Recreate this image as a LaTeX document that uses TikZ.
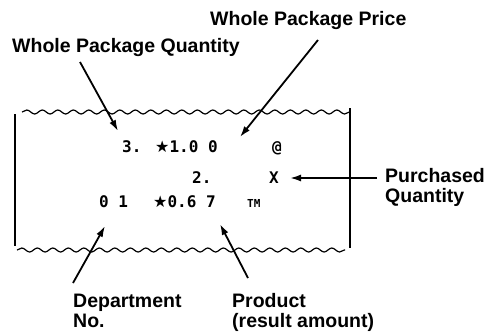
\documentclass[tikz,border=0pt]{standalone}
\usepackage{fontspec}
\usepackage{tikz}
\usetikzlibrary{arrows.meta,positioning,decorations.pathmorphing}
\setmainfont{Liberation Sans}
\newfontfamily\printfont{DejaVu Sans Mono}
\newfontfamily\starfont{DejaVu Sans}
\tikzset{
  lbl/.style={font=\bfseries\fontsize{19.5}{19.5}\selectfont, inner sep=0pt, align=left, anchor=base west},
  prt/.style={font=\printfont\bfseries\fontsize{16}{16}\selectfont, inner sep=0pt, anchor=base west},
  ptr/.style={line width=1.8pt, -{Latex[length=11pt,width=7pt]}},
  wave/.style={line width=1.2pt, decorate, decoration={snake, segment length=15.5pt, amplitude=2pt}}
}

\begin{document}
\begin{tikzpicture}[x=1pt,y=-1pt]
  \useasboundingbox (0,0) rectangle (490,335);
  % papier
  \draw[wave] (22,112) -- (350,112);
  \draw[wave] (17,250) -- (345,250);
  \draw[line width=1.2pt] (15,114) -- (15,246);
  \draw[line width=1.2pt] (350,108) -- (350,248);
  % lignes imprimees
  \node[prt] (qty)   at (122,152) {3.};
  \node[prt] (price) at (155,152) {{\starfont ★}1.0 0};
  \node[prt] (at)    at (272,152) {@};
  \node[prt] (pcs)   at (192,183) {2.};
  \node[prt] (times) at (269,183) {X};
  \node[prt] (dept)  at (99,207) {0 1};
  \node[prt] (amt)   at (153,207) {{\starfont ★}0.6 7};
  \node[prt] (tm)    at (247,207) {\fontsize{11}{11}\selectfont TM};
  % etiquettes
  \node[lbl] (pricelbl) at (210,25) {Whole Package Price};
  \node[lbl] (qtylbl) at (12,52) {Whole Package Quantity};
  \node[lbl] (purlbl) at (385,202) {Purchased\\Quantity};
  \node[lbl] (deptlbl) at (73,327) {Department\\No.};
  \node[lbl] (amtlbl) at (232,327) {Product\\(result amount)};
  % fleches
  \coordinate (qtytail) at (80,62);
  \coordinate (qtytip) at (118,131);
  \coordinate (pricetail) at (318,40);
  \coordinate (pricetip) at (240,137);
  \coordinate (purtail) at (377,178);
  \coordinate (purtip) at (290,178);
  \coordinate (depttail) at (73,283);
  \coordinate (depttip) at (105,226);
  \coordinate (amttail) at (248,278);
  \coordinate (amttip) at (220,224);
  \draw[ptr] (qtytail) -- (qtytip);
  \draw[ptr] (pricetail) -- (pricetip);
  \draw[ptr] (purtail) -- (purtip);
  \draw[ptr] (depttail) -- (depttip);
  \draw[ptr] (amttail) -- (amttip);
\end{tikzpicture}
\end{document}
